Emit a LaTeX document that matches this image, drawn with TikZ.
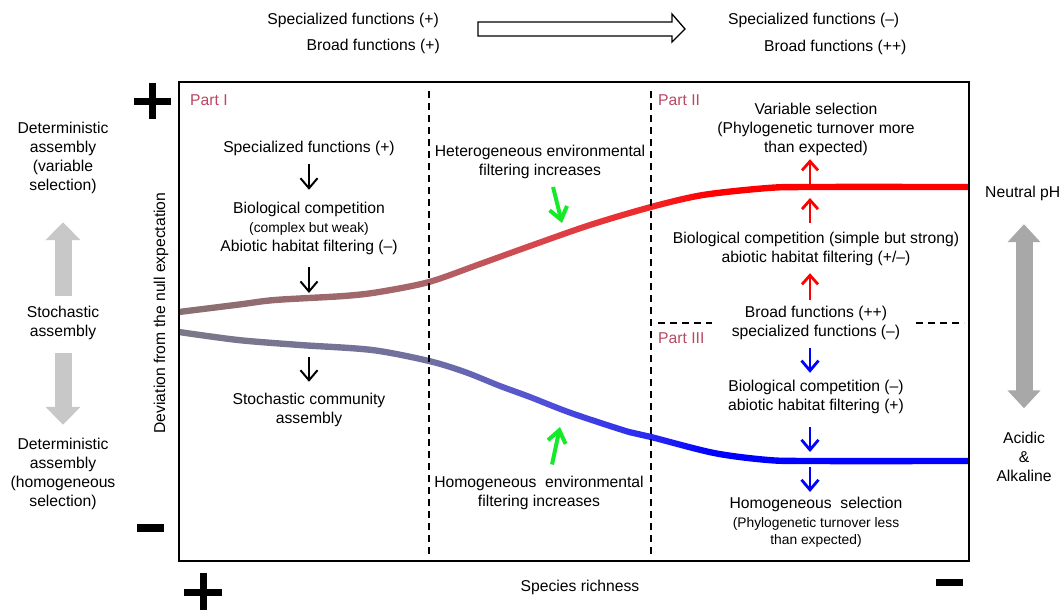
\documentclass[tikz,border=0pt]{standalone}
\usepackage{fontspec}
\setmainfont{Liberation Sans}
\usetikzlibrary{arrows.meta}

\definecolor{partc}{RGB}{185,72,98}
\definecolor{grn}{RGB}{20,235,40}
\definecolor{gryA}{RGB}{200,200,200}
\definecolor{gryB}{RGB}{168,168,168}
\definecolor{redA}{RGB}{136,112,114}
\definecolor{redB}{RGB}{170,100,105}
\definecolor{redC}{RGB}{215,70,76}
\definecolor{redD}{RGB}{242,38,40}
\definecolor{bluA}{RGB}{125,120,135}
\definecolor{bluB}{RGB}{112,112,160}
\definecolor{bluC}{RGB}{82,82,215}
\definecolor{bluD}{RGB}{40,40,242}

\pgfdeclarehorizontalshading{redfade}{100bp}{color(0bp)=(redA); color(25bp)=(redA); color(40.8bp)=(redB); color(47.7bp)=(redC); color(54.9bp)=(redD); color(58.6bp)=(red); color(100bp)=(red)}
\pgfdeclarehorizontalshading{bluefade}{100bp}{color(0bp)=(bluA); color(25bp)=(bluA); color(40.8bp)=(bluB); color(47.7bp)=(bluC); color(54.9bp)=(bluD); color(58.6bp)=(blue); color(100bp)=(blue)}

\newcommand\fs{\fontsize{15.7}{19}\selectfont}
\newcommand\fsmall{\fontsize{13.8}{19}\selectfont}

\begin{document}
\begin{tikzpicture}[x=1pt,y=-1pt,
  every node/.style={font=\fs, inner sep=0pt, align=center},
  part/.style={text=partc, anchor=west},
  blk/.style={line width=2pt, -{Straight Barb[length=10pt,width=17pt]}},
  redarr/.style={red, line width=2.8pt, -{Straight Barb[length=9pt,width=16pt]}},
  bluarr/.style={blue, line width=2.8pt, -{Straight Barb[length=10pt,width=17pt]}},
  grnarr/.style={grn, line width=4pt, -{Straight Barb[length=12pt,width=18pt]}},
  grayup/.style={gryA, line width=17pt, -{Triangle[length=18pt,width=34pt]}},
  graydbl/.style={gryB, line width=17pt, {Triangle[length=18pt,width=32pt]}-{Triangle[length=18pt,width=32pt]}},
  divline/.style={line width=2pt, dash pattern=on 7pt off 5pt},
  sign/.style={line width=7pt}]
\useasboundingbox (0,0) rectangle (1063,610);

% top line
\node[anchor=east] (topspecL) at (439,20) {Specialized functions (+)};
\node[anchor=east] (topbroadL) at (440,46) {Broad functions (+)};
\node[anchor=west] (topspecR) at (728,20) {Specialized functions (--)};
\node[anchor=west] (topbroadR) at (764,47) {Broad functions (++)};
\draw[line width=1.3pt] (478,22) -- (672,22) -- (672,14) -- (685,29) -- (672,42) -- (672,36) -- (478,36) -- cycle;

% curves
\begin{scope}
\clip plot[smooth] coordinates {(179,308.8) (240,301.2) (275,296.8) (344,292.8) (379,288.8) (429,278.8) (480,260.8) (530,242.8) (590,221.8) (651,203.8) (703,191.8) (768,184.8) (811,183.8) (969,183.8)}
  -- plot[smooth] coordinates {(969,190.2) (811,190.2) (768,191.2) (703,198.2) (651,210.2) (590,228.2) (530,249.2) (480,267.2) (429,285.2) (379,295.2) (344,299.2) (275,303.2) (240,307.6) (179,315.2)} -- cycle;
\shade[shading=redfade] (179,170) rectangle (969,330);
\end{scope}
\begin{scope}
\clip plot[smooth] coordinates {(179,328.8) (238,336.8) (300,341.8) (372,346.8) (429,357.8) (465,368.8) (500,382.8) (530,393.8) (571,409.8) (629,428.8) (651,433.8) (714,449.8) (768,456.8) (811,457.8) (969,457.8)}
  -- plot[smooth] coordinates {(969,464.2) (811,464.2) (768,463.2) (714,456.2) (651,440.2) (629,435.2) (571,416.2) (530,400.2) (500,389.2) (465,375.2) (429,364.2) (372,353.2) (300,348.2) (238,343.2) (179,335.2)} -- cycle;
\shade[shading=bluefade] (179,310) rectangle (969,480);
\end{scope}

% frame, parts
\draw[line width=2pt] (179,82) rectangle (969,561);
\draw[divline] (429,91) -- (429,558);
\draw[divline] (651,91) -- (651,558);
\draw[divline, line width=1.6pt] (658,323) -- (712,323);
\draw[divline, line width=1.6pt] (916,323) -- (964,323);
\node[part] (partI) at (190,100) {Part I};
\node[part] (partII) at (658,100) {Part II};
\node[part] (partIII) at (658,338) {Part III};

% signs
\draw[sign] (134,101) -- (171,101);
\draw[sign] (152.5,83) -- (152.5,119);
\draw[sign, line width=8pt] (137,528) -- (164,528);
\draw[sign] (184,592) -- (222,592);
\draw[sign] (203,573) -- (203,615);
\draw[sign] (936,582) -- (963,582);

% axes
\node[rotate=90] (ylab) at (161,313) {Deviation from the null expectation};
\node (xlab) at (580,587) {Species richness};

% left side
\node (detV) at (63,157.5) {Deterministic\\assembly\\(variable\\selection)};
\node (stochL) at (63,322.5) {Stochastic\\assembly};
\node (detH) at (63,473.5) {Deterministic\\assembly\\(homogeneous\\selection)};
\draw[grayup, shorten <=9.7pt, shorten >=28.7pt] (stochL) -- (detV);
\draw[grayup, shorten <=13.7pt, shorten >=12.7pt] (stochL) -- (detH);

% right side
\node[anchor=west] (neutral) at (985,193) {Neutral pH};
\node (acid) at (1024,457) {Acidic\\\&\\Alkaline};
\draw[graydbl, shorten <=23.7pt, shorten >=23.7pt] (neutral.south -| acid.north) -- (acid);

% part I
\coordinate (redI) at (309,299);
\coordinate (blueI) at (309,346);
\node (pIspec) at (309,148) {Specialized functions (+)};
\node (pIbio) at (309,228) {Biological competition\\{\fsmall (complex but weak)}\\Abiotic habitat filtering (--)};
\node (stochC) at (309,409.5) {Stochastic community\\assembly};
\draw[blk, shorten <=8.7pt, shorten >=11.7pt] (pIspec) -- (pIbio);
\draw[blk, shorten <=12.7pt, shorten >=6pt] (pIbio) -- (redI);
\draw[blk, shorten <=11pt, shorten >=10.7pt] (blueI) -- (stochC);

% middle
\coordinate (hetTip) at (562,223);
\coordinate (homTip) at (560,427);
\node (hetero) at (540,162) {Heterogeneous environmental\\filtering increases};
\node (homenv) at (539,492.5) {Homogeneous\ \ environmental\\filtering increases};
\draw[grnarr] ([shift={(13,8)}]hetero.south) -- (hetTip);
\draw[grnarr] ([shift={(13,-11)}]homenv.north) -- (homTip);

% part II and III
\coordinate (redII) at (810,187);
\coordinate (blueII) at (810,461);
\node (varsel) at (816,129) {Variable selection\\(Phylogenetic turnover more\\than expected)};
\node (bioII) at (816,249) {Biological competition (simple but strong)\\abiotic habitat filtering (+/--)};
\node (broad) at (816,322.5) {Broad functions (++)\\specialized functions (--)};
\node (bioIII) at (816,396.5) {Biological competition (--)\\abiotic habitat filtering (+)};
\node (homsel) at (816,522) {Homogeneous\ \ selection\\{\fsmall (Phylogenetic turnover less}\\[-2pt]{\fsmall than expected)}};
\draw[redarr, shorten >=3.7pt] (redII) -- (varsel.south -| redII);
\draw[redarr, shorten <=9.2pt, shorten >=11pt] (bioII.north -| redII) -- (redII);
\draw[redarr, shorten <=5.7pt, shorten >=7.2pt] (broad.north -| redII) -- (bioII.south -| redII);
\draw[bluarr, shorten <=8.7pt, shorten >=6.7pt] (broad.south -| redII) -- (bioIII.north -| redII);
\draw[bluarr, shorten <=13.7pt, shorten >=9pt] (bioIII.south -| redII) -- (blueII);
\draw[bluarr, shorten <=6pt, shorten >=4.7pt] (blueII) -- (homsel.north -| redII);
\end{tikzpicture}
\end{document}
